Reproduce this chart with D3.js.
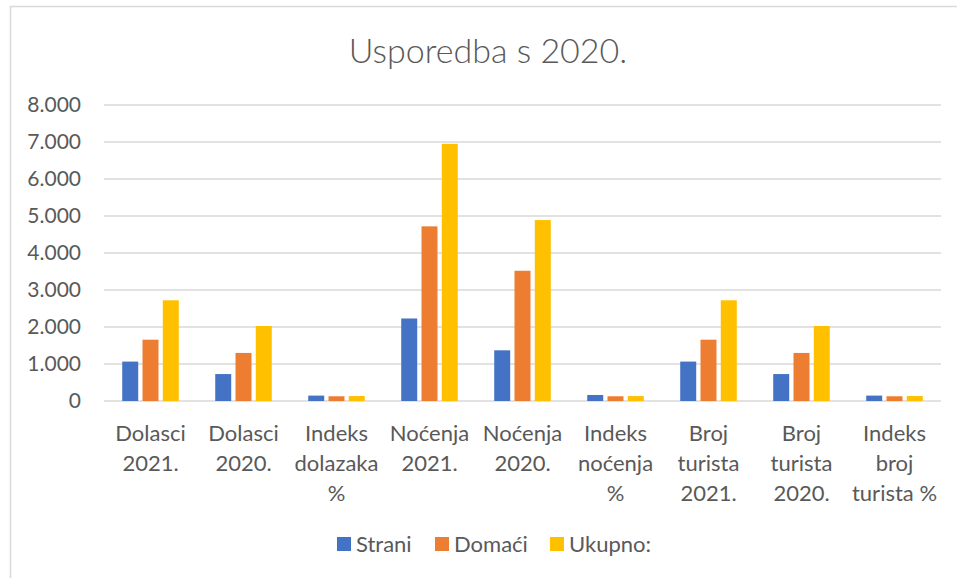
<!DOCTYPE html>
<html>
<head>
<meta charset="utf-8">
<script src="https://cdn.jsdelivr.net/npm/d3@7"></script>
<style>
  body { margin: 0; background: #ffffff; }
  svg text { font-family: Lato, "Open Sans", sans-serif; fill: #595959; }
</style>
</head>
<body>
<svg></svg>
<script>
// Chart data
const categories = ["Dolasci 2021.", "Dolasci 2020.", "Indeks dolazaka %", "Noćenja 2021.", "Noćenja 2020.",
    "Indeks noćenja %", "Broj turista 2021.", "Broj turista 2020.", "Indeks broj turista %"];
const seriesNames = ["Strani", "Domaći", "Ukupno:"];
const strani = [1065, 728, 146, 2230, 1370, 163, 1065, 728, 146];
const domaci = [1657, 1299, 128, 4720, 3520, 128, 1657, 1299, 128];
const ukupno = [2722, 2027, 134, 6950, 4890, 133, 2722, 2027, 134];
const yTicks = [0, 1000, 2000, 3000, 4000, 5000, 6000, 7000, 8000];
const colors = ["#4472C4", "#ED7D31", "#FFC000"];

const seriesValues = [strani, domaci, ukupno];

const svgWidth = 957, svgHeight = 578;
const plot = { left: 104, right: 941, top: 105, bottom: 401 };

const svg = d3.select("svg")
    .attr("width", svgWidth)
    .attr("height", svgHeight);

// Chart area border
svg.append("rect")
    .attr("x", 10.5).attr("y", 6.5)
    .attr("width", 960).attr("height", 600)
    .attr("fill", "#ffffff")
    .attr("stroke", "#d9d9d9")
    .attr("stroke-width", 1.5);

// Title (light weight, like the original)
svg.append("text")
    .attr("x", 488)
    .attr("y", 63)
    .attr("text-anchor", "middle")
    .style("font-size", "34px")
    .style("font-weight", 300)
    .text("Usporedba s 2020.");

// Scales
const x0 = d3.scaleBand().domain(categories).range([plot.left, plot.right]);
const bw = x0.bandwidth();
const x1 = d3.scaleBand().domain(seriesNames)
    .range([bw * 0.196, bw * 0.804])
    .paddingInner(0.212);
const y = d3.scaleLinear().domain([0, 8000]).range([plot.bottom, plot.top]);

// Gridlines
svg.append("g")
    .selectAll("line")
    .data(yTicks)
    .join("line")
    .attr("x1", plot.left).attr("x2", plot.right)
    .attr("y1", d => y(d)).attr("y2", d => y(d))
    .attr("stroke", "#d9d9d9")
    .attr("stroke-width", 1.5);

// Y axis labels
const fmt = d3.formatLocale({ decimal: ",", thousands: ".", grouping: [3], currency: ["", ""] }).format(",d");
const yAxis = svg.append("g")
    .attr("transform", `translate(${plot.left - 23},0)`)
    .call(d3.axisLeft(y).tickValues(yTicks).tickFormat(fmt).tickSize(0).tickPadding(0));
yAxis.select(".domain").remove();
yAxis.selectAll("text")
    .style("font-size", "21px")
    .attr("fill", "#595959");

// Bars
const groups = svg.append("g")
    .selectAll("g")
    .data(categories)
    .join("g")
    .attr("transform", d => `translate(${x0(d)},0)`);

groups.selectAll("rect")
    .data((d, i) => seriesNames.map((s, j) => ({ series: s, value: seriesValues[j][i], color: colors[j] })))
    .join("rect")
    .attr("x", d => x1(d.series))
    .attr("width", x1.bandwidth())
    .attr("y", d => y(d.value))
    .attr("height", d => y(0) - y(d.value))
    .attr("fill", d => d.color);

// X axis labels (wrapped)
const xAxis = svg.append("g")
    .attr("transform", `translate(0,${plot.bottom})`)
    .call(d3.axisBottom(x0).tickSize(0).tickPadding(0));
xAxis.select(".domain").remove();
xAxis.selectAll("text")
    .style("font-size", "22px")
    .attr("fill", "#595959")
    .each(function(d) {
        const t = d3.select(this);
        const words = d.split(" ");
        t.text(null).attr("y", 0).attr("dy", null);
        const maxW = bw - 2;
        let line = [];
        let lineNo = 0;
        let tspan = t.append("tspan").attr("x", 0).attr("y", 40);
        words.forEach(w => {
            line.push(w);
            tspan.text(line.join(" "));
            if (tspan.node().getComputedTextLength() > maxW && line.length > 1) {
                line.pop();
                tspan.text(line.join(" "));
                line = [w];
                lineNo++;
                tspan = t.append("tspan").attr("x", 0).attr("y", 40 + lineNo * 30).text(w);
            }
        });
    });

// Legend
const legendItems = [
    { name: seriesNames[0], color: colors[0], x: 337 },
    { name: seriesNames[1], color: colors[1], x: 435 },
    { name: seriesNames[2], color: colors[2], x: 550 }
];
const legend = svg.append("g");
legend.selectAll("rect")
    .data(legendItems)
    .join("rect")
    .attr("x", d => d.x).attr("y", 537)
    .attr("width", 14).attr("height", 14)
    .attr("fill", d => d.color);
legend.selectAll("text")
    .data(legendItems)
    .join("text")
    .attr("x", d => d.x + 19)
    .attr("y", 552)
    .style("font-size", "22px")
    .text(d => d.name);
</script>
</body>
</html>
